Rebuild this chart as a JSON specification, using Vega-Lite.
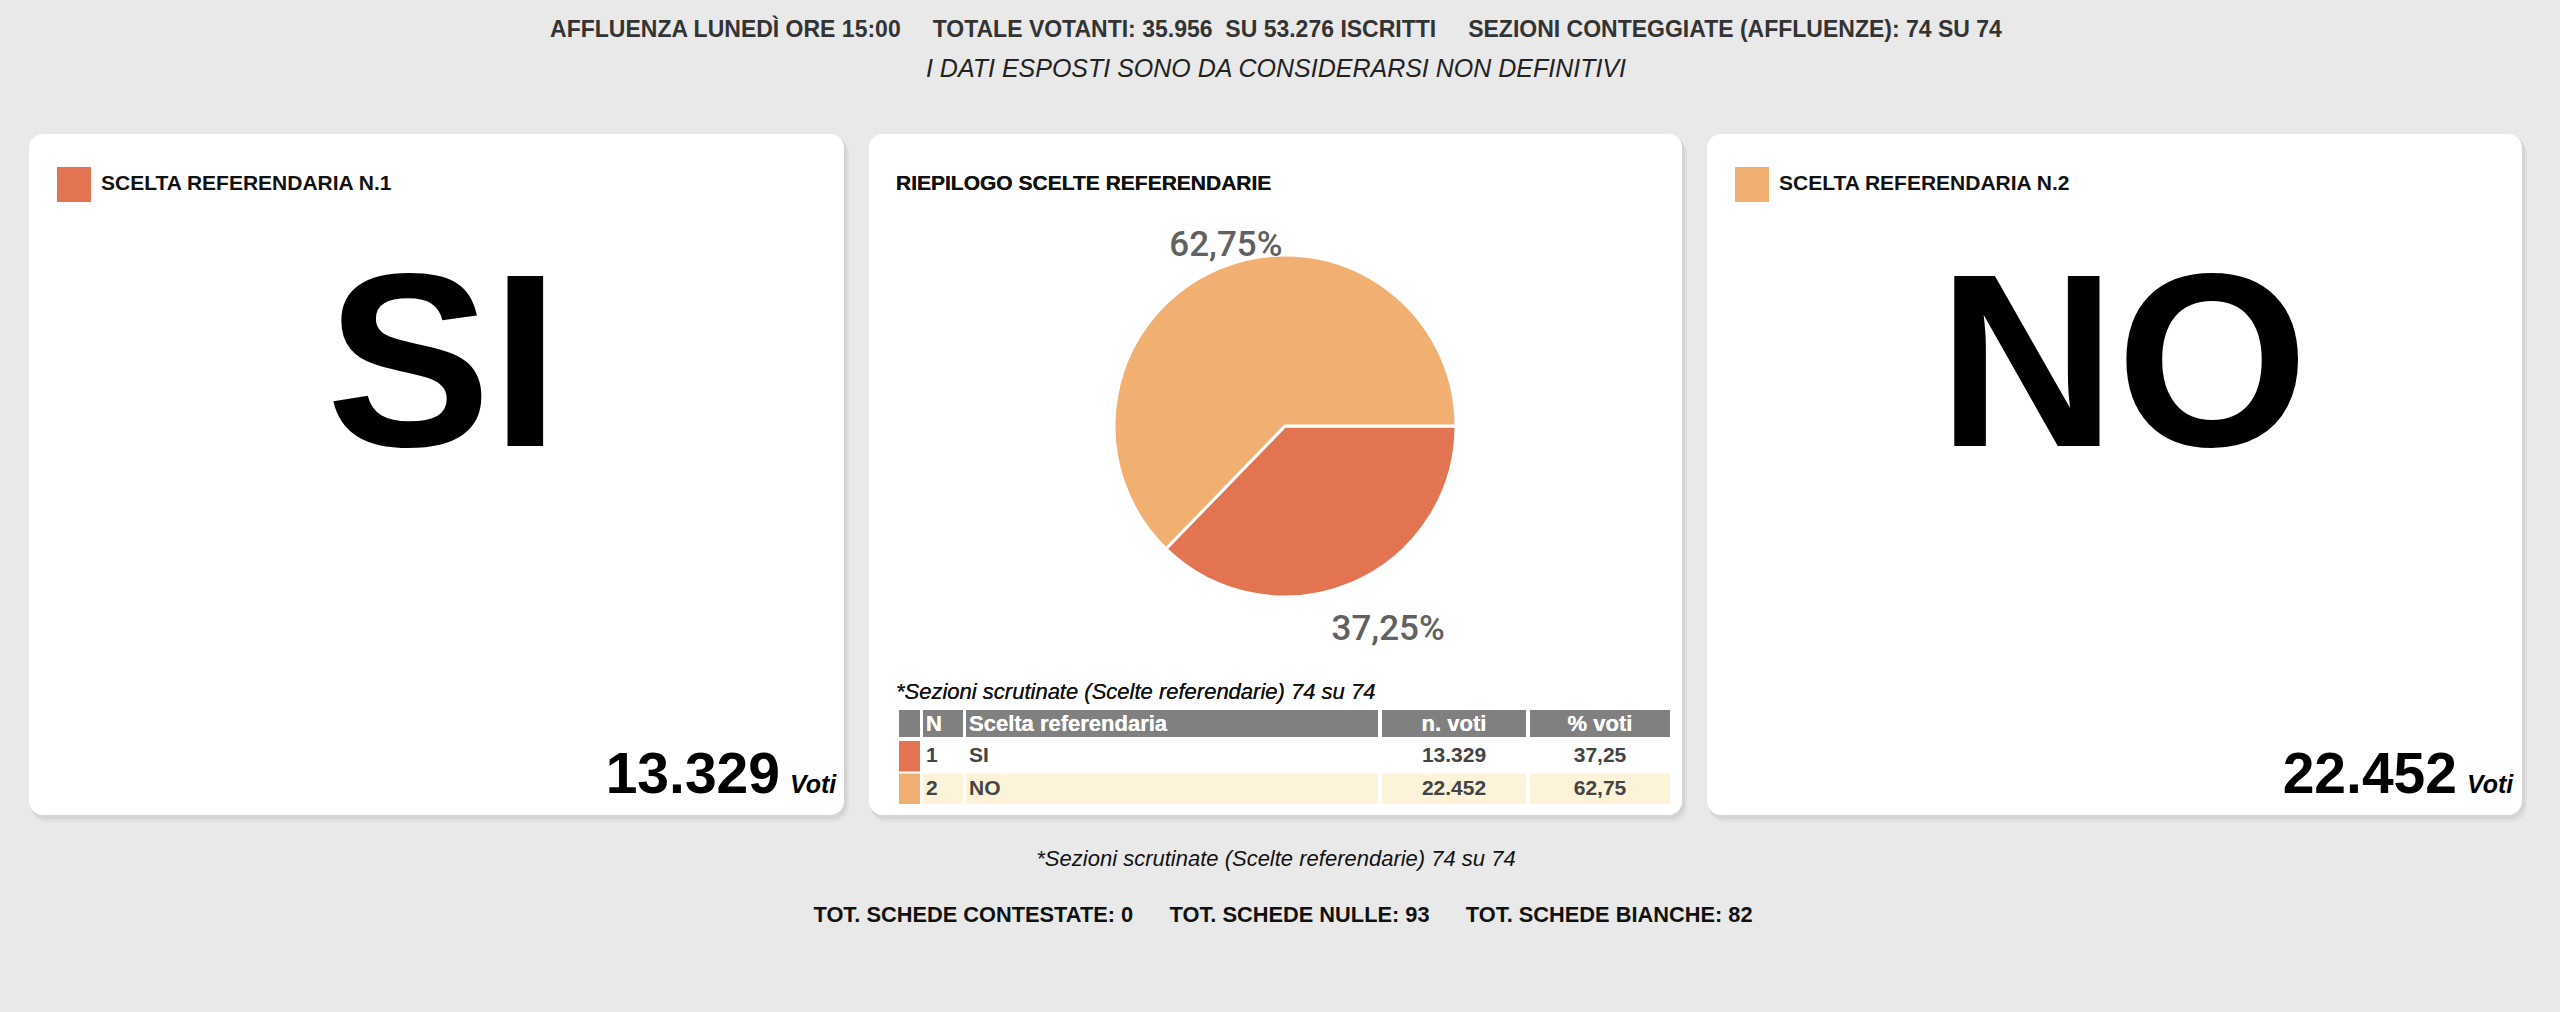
{
  "$schema": "https://vega.github.io/schema/vega-lite/v6.json",
  "background": "#e9e9e9",
  "padding": {"left": 29, "right": 32, "top": 0, "bottom": 0},
  "autosize": {"type": "pad"},
  "spacing": 0,
  "datasets": {
    "risultati": [
      {"n": 1, "scelta": "SI", "voti": 13329, "perc": 37.25},
      {"n": 2, "scelta": "NO", "voti": 22452, "perc": 62.75}
    ]
  },
  "config": {
    "view": {"stroke": null},
    "font": "Liberation Sans",
    "locale": {"number": {"decimal": ",", "thousands": ".", "grouping": [3], "currency": ["€", ""]}}
  },
  "vconcat": [
    {
      "width": 2499,
      "height": 134,
      "data": {"values": [{"riga": 1}]},
      "layer": [
        {"mark": {"type": "text", "text": "AFFLUENZA LUNEDÌ ORE 15:00\u00a0\u00a0\u00a0\u00a0\u00a0TOTALE VOTANTI: 35.956\u00a0\u00a0SU 53.276 ISCRITTI\u00a0\u00a0\u00a0\u00a0\u00a0SEZIONI CONTEGGIATE (AFFLUENZE): 74 SU 74", "x": 1247, "y": 30, "align": "center", "baseline": "middle", "fontSize": 23, "fontWeight": "bold", "color": "#333333"}},
        {"mark": {"type": "text", "text": "I DATI ESPOSTI SONO DA CONSIDERARSI NON DEFINITIVI", "x": 1247, "y": 69, "align": "center", "baseline": "middle", "fontSize": 25, "fontStyle": "italic", "color": "#222222"}}
      ]
    },
    {
      "hconcat": [
        {
          "width": 821,
          "height": 688,
          "data": {"name": "risultati"},
          "transform": [{"filter": "datum.scelta === 'SI'"}],
          "layer": [
            {"mark": {"type": "rect", "x": 2, "x2": 820, "y": 5, "y2": 688, "cornerRadius": 16, "color": "#e0e0e0"}},
            {"mark": {"type": "rect", "x": 1, "x2": 818, "y": 2, "y2": 685, "cornerRadius": 15, "color": "#d5d5d5"}},
            {"mark": {"type": "rect", "x": 0, "x2": 815, "y": 0, "y2": 681, "cornerRadius": 14, "color": "#ffffff"}},
            {"mark": {"type": "rect", "x": 28, "x2": 62, "y": 33, "y2": 68}, "encoding": {"color": {"field": "scelta", "type": "nominal", "scale": {"domain": ["SI", "NO"], "range": ["#e37451", "#f2af72"]}, "legend": null}}},
            {"mark": {"type": "text", "text": {"expr": "'SCELTA REFERENDARIA N.' + datum.n"}, "x": 72, "y": 50, "align": "left", "baseline": "middle", "fontSize": 21, "fontWeight": "bold", "color": "#111111"}},
            {"mark": {"type": "text", "x": 414, "y": 312, "align": "center", "baseline": "alphabetic", "fontSize": 247, "fontWeight": "bold", "color": "#000000"}, "encoding": {"text": {"field": "scelta", "type": "nominal"}}},
            {"mark": {"type": "text", "x": 751, "y": 659, "align": "right", "baseline": "alphabetic", "fontSize": 57, "fontWeight": "bold", "color": "#000000"}, "encoding": {"text": {"field": "voti", "type": "quantitative", "format": ",d"}}},
            {"mark": {"type": "text", "text": "Voti", "x": 761, "y": 659, "align": "left", "baseline": "alphabetic", "fontSize": 25, "fontWeight": "bold", "fontStyle": "italic", "color": "#000000"}}
          ]
        },
        {
          "width": 819,
          "height": 688,
          "data": {"name": "risultati"},
          "layer": [
            {"mark": {"type": "rect", "x": 2, "x2": 818, "y": 5, "y2": 688, "cornerRadius": 16, "color": "#e0e0e0"}},
            {"mark": {"type": "rect", "x": 1, "x2": 816, "y": 2, "y2": 685, "cornerRadius": 15, "color": "#d5d5d5"}},
            {"mark": {"type": "rect", "x": 0, "x2": 813, "y": 0, "y2": 681, "cornerRadius": 14, "color": "#ffffff"}},
            {"mark": {"type": "text", "text": "RIEPILOGO SCELTE REFERENDARIE", "x": 27, "y": 50, "align": "left", "baseline": "middle", "fontSize": 21, "fontWeight": "bold", "color": "#111111"}},
            {
              "mark": {"type": "arc", "radius": 171, "x": 416, "y": 292, "stroke": "white", "strokeWidth": 3},
              "encoding": {
                "theta": {"field": "voti", "type": "quantitative", "stack": true, "scale": {"range": [1.5708, 7.854]}},
                "order": {"field": "n", "type": "quantitative"},
                "color": {"field": "scelta", "type": "nominal", "scale": {"domain": ["SI", "NO"], "range": ["#e37451", "#f2af72"]}, "legend": null}
              }
            },
            {
              "mark": {"type": "text", "x": 438, "y": 303, "radius": 208, "align": "center", "baseline": "middle", "fontSize": 35, "fontWeight": 500, "font": "Roboto, sans-serif", "color": "#616161", "text": {"expr": "replace(format(datum.perc, '.2f'), '.', ',') + '%'"}},
              "encoding": {
                "theta": {"field": "voti", "type": "quantitative", "stack": true},
                "order": {"field": "n", "type": "quantitative"}
              }
            },
            {"mark": {"type": "text", "text": "*Sezioni scrutinate (Scelte referendarie) 74 su 74", "x": 27, "y": 558, "align": "left", "baseline": "middle", "fontSize": 22, "fontStyle": "italic", "color": "#111111"}},
            {"mark": {"type": "rect", "x": 30, "x2": 51, "y": 576, "y2": 603, "color": "#808080"}},
            {"mark": {"type": "rect", "x": 54, "x2": 94, "y": 576, "y2": 603, "color": "#808080"}},
            {"mark": {"type": "rect", "x": 97, "x2": 509, "y": 576, "y2": 603, "color": "#808080"}},
            {"mark": {"type": "rect", "x": 513, "x2": 657, "y": 576, "y2": 603, "color": "#808080"}},
            {"mark": {"type": "rect", "x": 661, "x2": 801, "y": 576, "y2": 603, "color": "#808080"}},
            {"mark": {"type": "text", "text": "N", "x": 57, "y": 590, "align": "left", "baseline": "middle", "fontSize": 22, "fontWeight": "bold", "color": "white"}},
            {"mark": {"type": "text", "text": "Scelta referendaria", "x": 100, "y": 590, "align": "left", "baseline": "middle", "fontSize": 22, "fontWeight": "bold", "color": "white"}},
            {"mark": {"type": "text", "text": "n. voti", "x": 585, "y": 590, "align": "center", "baseline": "middle", "fontSize": 22, "fontWeight": "bold", "color": "white"}},
            {"mark": {"type": "text", "text": "% voti", "x": 731, "y": 590, "align": "center", "baseline": "middle", "fontSize": 22, "fontWeight": "bold", "color": "white"}},
            {
              "mark": {"type": "rect", "x": 30, "x2": 51},
              "encoding": {
                "y": {"field": "n", "type": "ordinal", "scale": {"domain": [1, 2], "range": [607, 670], "paddingInner": 0.06, "paddingOuter": 0}, "axis": null},
                "color": {"field": "scelta", "type": "nominal", "scale": {"domain": ["SI", "NO"], "range": ["#e37451", "#f2af72"]}, "legend": null}
              }
            },
            {"mark": {"type": "rect", "x": 54, "x2": 94}, "encoding": {"y": {"field": "n", "type": "ordinal", "axis": null}, "fill": {"condition": {"test": "datum.n === 2", "value": "#fdf3d9"}, "value": "#ffffff"}}},
            {"mark": {"type": "rect", "x": 97, "x2": 509}, "encoding": {"y": {"field": "n", "type": "ordinal", "axis": null}, "fill": {"condition": {"test": "datum.n === 2", "value": "#fdf3d9"}, "value": "#ffffff"}}},
            {"mark": {"type": "rect", "x": 513, "x2": 657}, "encoding": {"y": {"field": "n", "type": "ordinal", "axis": null}, "fill": {"condition": {"test": "datum.n === 2", "value": "#fdf3d9"}, "value": "#ffffff"}}},
            {"mark": {"type": "rect", "x": 661, "x2": 801}, "encoding": {"y": {"field": "n", "type": "ordinal", "axis": null}, "fill": {"condition": {"test": "datum.n === 2", "value": "#fdf3d9"}, "value": "#ffffff"}}},
            {"mark": {"type": "text", "x": 57, "align": "left", "baseline": "middle", "fontSize": 21, "fontWeight": "bold", "color": "#444444"}, "encoding": {"y": {"field": "n", "type": "ordinal", "axis": null}, "text": {"field": "n", "type": "ordinal"}}},
            {"mark": {"type": "text", "x": 100, "align": "left", "baseline": "middle", "fontSize": 21, "fontWeight": "bold", "color": "#444444"}, "encoding": {"y": {"field": "n", "type": "ordinal", "axis": null}, "text": {"field": "scelta", "type": "nominal"}}},
            {"mark": {"type": "text", "x": 585, "align": "center", "baseline": "middle", "fontSize": 21, "fontWeight": "bold", "color": "#444444"}, "encoding": {"y": {"field": "n", "type": "ordinal", "axis": null}, "text": {"field": "voti", "type": "quantitative", "format": ",d"}}},
            {"mark": {"type": "text", "x": 731, "align": "center", "baseline": "middle", "fontSize": 21, "fontWeight": "bold", "color": "#444444"}, "encoding": {"y": {"field": "n", "type": "ordinal", "axis": null}, "text": {"field": "perc", "type": "quantitative", "format": ".2f"}}}
          ]
        },
        {
          "width": 821,
          "height": 688,
          "data": {"name": "risultati"},
          "transform": [{"filter": "datum.scelta === 'NO'"}],
          "layer": [
            {"mark": {"type": "rect", "x": 2, "x2": 820, "y": 5, "y2": 688, "cornerRadius": 16, "color": "#e0e0e0"}},
            {"mark": {"type": "rect", "x": 1, "x2": 818, "y": 2, "y2": 685, "cornerRadius": 15, "color": "#d5d5d5"}},
            {"mark": {"type": "rect", "x": 0, "x2": 815, "y": 0, "y2": 681, "cornerRadius": 14, "color": "#ffffff"}},
            {"mark": {"type": "rect", "x": 28, "x2": 62, "y": 33, "y2": 68}, "encoding": {"color": {"field": "scelta", "type": "nominal", "scale": {"domain": ["SI", "NO"], "range": ["#e37451", "#f2af72"]}, "legend": null}}},
            {"mark": {"type": "text", "text": {"expr": "'SCELTA REFERENDARIA N.' + datum.n"}, "x": 72, "y": 50, "align": "left", "baseline": "middle", "fontSize": 21, "fontWeight": "bold", "color": "#111111"}},
            {"mark": {"type": "text", "x": 416, "y": 312, "align": "center", "baseline": "alphabetic", "fontSize": 247, "fontWeight": "bold", "color": "#000000"}, "encoding": {"text": {"field": "scelta", "type": "nominal"}}},
            {"mark": {"type": "text", "x": 750, "y": 659, "align": "right", "baseline": "alphabetic", "fontSize": 57, "fontWeight": "bold", "color": "#000000"}, "encoding": {"text": {"field": "voti", "type": "quantitative", "format": ",d"}}},
            {"mark": {"type": "text", "text": "Voti", "x": 760, "y": 659, "align": "left", "baseline": "alphabetic", "fontSize": 25, "fontWeight": "bold", "fontStyle": "italic", "color": "#000000"}}
          ]
        }
      ],
      "spacing": 19
    },
    {
      "width": 2499,
      "height": 190,
      "data": {"values": [{"riga": 1}]},
      "layer": [
        {"mark": {"type": "text", "text": "*Sezioni scrutinate (Scelte referendarie) 74 su 74", "x": 1247, "y": 37, "align": "center", "baseline": "middle", "fontSize": 22, "fontStyle": "italic", "color": "#111111"}},
        {"mark": {"type": "text", "text": "TOT. SCHEDE CONTESTATE: 0\u00a0\u00a0\u00a0\u00a0\u00a0\u00a0TOT. SCHEDE NULLE: 93\u00a0\u00a0\u00a0\u00a0\u00a0\u00a0TOT. SCHEDE BIANCHE: 82", "x": 1254, "y": 93, "align": "center", "baseline": "middle", "fontSize": 21.8, "fontWeight": "bold", "color": "#111111"}}
      ]
    }
  ]
}
